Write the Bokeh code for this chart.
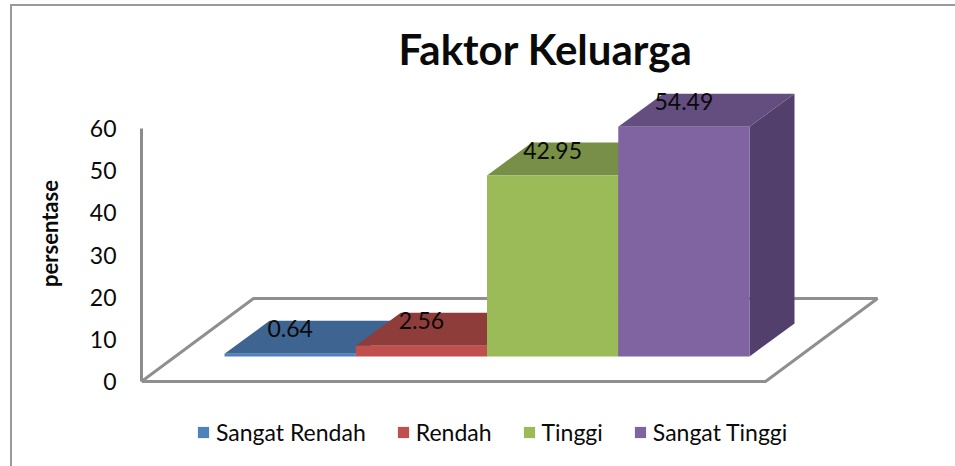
from bokeh.plotting import figure
from bokeh.models import Range1d, LinearAxis, SingleIntervalTicker, Legend, LegendItem, Label
from bokeh.core.properties import value
from bokeh.embed import file_html
from bokeh.resources import INLINE

title_text = "Faktor Keluarga"
y_label = "persentase"
categories = ["Sangat Rendah", "Rendah", "Tinggi", "Sangat Tinggi"]
values = [0.64, 2.56, 42.95, 54.49]
front_colors = ["#4f81bd", "#c0504d", "#9bbb59", "#8064a2"]
top_colors = ["#3e6491", "#8f3d3b", "#778f46", "#644e7f"]
side_colors = ["#34547a", "#7a3432", "#657a3b", "#533f6c"]
labels = ["0.64", "2.56", "42.95", "54.49"]

FONT = "Lato"
TEXT = "#0a0a0a"
PAGE_L, PAGE_T = 0, 0
W, H = 955, 466
FRAME_L = 141
UNIT_X = 131.25          # px per category
UNIT_Y = 253 / 60        # px per value unit
X0_PX, Y0_PX = 224, 381  # where category 0 begins / where value 0 sits


def xd(px):
    return (px - X0_PX) / UNIT_X


def yd(py):
    return (Y0_PX - py) / UNIT_Y


p = figure(width=W, height=H, output_backend="svg", toolbar_location=None,
           x_range=Range1d(xd(FRAME_L), xd(PAGE_L + W)),
           y_range=Range1d(yd(PAGE_T + H), yd(PAGE_T)),
           x_axis_location=None, y_axis_location=None,
           min_border_left=FRAME_L - PAGE_L, min_border_right=0,
           min_border_top=0, min_border_bottom=0, outline_line_color=None,
           background_fill_color=None, border_fill_color=None)
p.grid.visible = False

# outer chart border (left and top edges only), painted behind the transparent canvas
p.styles = {
    "background-image": "linear-gradient(#9a9a9a,#9a9a9a),linear-gradient(#9a9a9a,#9a9a9a)",
    "background-size": "2px 100%,100% 2px",
    "background-position": "10px 4px,10px 4px",
    "background-repeat": "no-repeat",
}

# y axis
axis = LinearAxis(ticker=SingleIntervalTicker(interval=10), bounds=(0, 60),
                  axis_label=y_label)
axis.axis_line_color = "#8c8c8c"
axis.axis_line_width = 3
axis.major_tick_line_color = None
axis.minor_tick_line_color = None
axis.major_tick_out = 0
axis.major_label_standoff = 21
axis.major_label_text_font = FONT
axis.major_label_text_font_size = "23px"
axis.major_label_text_color = TEXT
axis.axis_label_text_font = FONT
axis.axis_label_text_font_size = "22px"
axis.axis_label_text_font_style = "bold"
axis.axis_label_text_color = TEXT
axis.axis_label_standoff = 24
p.add_layout(axis, "left")

# 3D projection
DX = 45 / UNIT_X
DY = 33 / UNIT_Y
BASE = yd(356)
FLOOR_DX = 112 / UNIT_X
FLOOR_DY = 83 / UNIT_Y
FLOOR_X0 = xd(FRAME_L)
FLOOR_X1 = xd(765)
fx = [FLOOR_X0, FLOOR_X1, FLOOR_X1 + FLOOR_DX, FLOOR_X0 + FLOOR_DX, FLOOR_X0]
fy = [0, 0, FLOOR_DY, FLOOR_DY, 0]
p.line(fx, fy, line_color="#8f8f8f", line_width=3)

fronts = []
for i, v in enumerate(values):
    x0, x1, y0, y1 = i, i + 1, BASE, BASE + v
    p.patch([x1, x1 + DX, x1 + DX, x1], [y0, y0 + DY, y1 + DY, y1],
            fill_color=side_colors[i], line_color=None)
    p.patch([x0, x1, x1 + DX, x0 + DX], [y1, y1, y1 + DY, y1 + DY],
            fill_color=top_colors[i], line_color=None)
    fronts.append(p.patch([x0, x1, x1, x0], [y0, y0, y1, y1],
                          fill_color=front_colors[i], line_color=None))

LABEL_LIFT = 25 / UNIT_Y
p.text(x=[i + 0.5 for i in range(len(values))],
       y=[BASE + v + LABEL_LIFT for v in values],
       text=labels, text_align="center", text_baseline="middle",
       text_font=value(FONT), text_font_size="23px", text_color=TEXT)

p.add_layout(Label(x=xd(545), y=yd(48), text=title_text, text_align="center",
                   text_baseline="middle", text_font=FONT, text_font_size="42px",
                   text_font_style="bold", text_color=TEXT))

legend = Legend(items=[LegendItem(label=c, renderers=[r]) for c, r in zip(categories, fronts)],
                orientation="horizontal", location=(196 - FRAME_L, PAGE_T + H - 446),
                glyph_width=14, glyph_height=14, label_standoff=6, spacing=30,
                margin=0, padding=0, border_line_color=None, background_fill_alpha=0,
                label_text_font=FONT, label_text_font_size="23px", label_text_color=TEXT,
                label_height=14)
p.add_layout(legend, "center")

open("out.html", "w").write(file_html(p, INLINE))
